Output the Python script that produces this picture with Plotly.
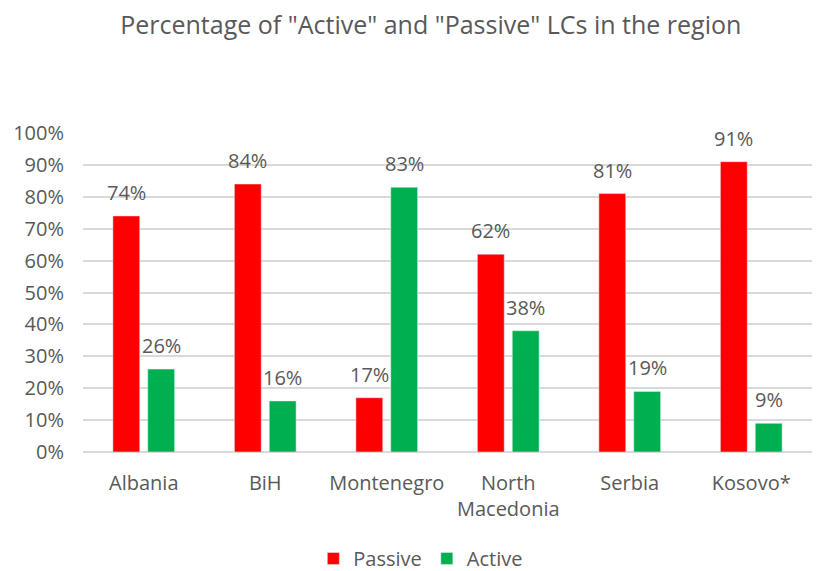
import plotly.graph_objects as go

categories = ["Albania", "BiH", "Montenegro", "North<br>Macedonia", "Serbia", "Kosovo*"]
passive = [0.74, 0.84, 0.17, 0.62, 0.81, 0.91]
active = [0.26, 0.16, 0.83, 0.38, 0.19, 0.09]
tick_vals = [0, 0.1, 0.2, 0.3, 0.4, 0.5, 0.6, 0.7, 0.8, 0.9, 1.0]

FONT = "Open Sans"
GREY = "#595959"

fig = go.Figure()
fig.add_trace(go.Bar(name="Passive", x=categories, y=passive, marker_color="#FF0000"))
fig.add_trace(go.Bar(name="Active", x=categories, y=active, marker_color="#00B050"))

annotations = []
for series, shift in ((passive, -17.5), (active, 17.5)):
    for c, v in zip(categories, series):
        annotations.append(dict(
            x=c, y=v, xref="x", yref="y", text=f"{round(v*100)}%",
            showarrow=False, xshift=shift, yanchor="bottom", yshift=8,
            font=dict(family=FONT, size=20, color=GREY)))

fig.update_layout(
    width=829, height=571,
    margin=dict(l=75, r=25, t=125, b=127, autoexpand=False),
    paper_bgcolor="white", plot_bgcolor="white",
    barmode="group", bargap=0.426, bargroupgap=0.23,
    title=dict(text='Percentage of "Active" and "Passive" LCs in the region',
               x=0.510, xanchor="center", yref="container", y=0.970, yanchor="middle",
               font=dict(family=FONT, size=25, color=GREY)),
    font=dict(family=FONT, size=20, color=GREY),
    xaxis=dict(showgrid=False, showline=False, ticks="", ticklabelstandoff=17,
               automargin=False, tickfont=dict(size=20, color=GREY)),
    yaxis=dict(range=[0, 1.0], tickvals=tick_vals, tickformat=".0%",
               showgrid=True, gridcolor="#D9D9D9", gridwidth=1.5,
               zeroline=True, zerolinecolor="#D9D9D9", zerolinewidth=1.5,
               showline=False, ticks="", ticklabelstandoff=18, automargin=False,
               tickfont=dict(size=20, color=GREY)),
    legend=dict(orientation="h", xref="container", x=0.498, xanchor="center",
                yref="container", y=0.036, yanchor="middle",
                font=dict(size=20, color=GREY), traceorder="normal", itemwidth=30),
    annotations=annotations,
)

fig.write_html("out.html")
